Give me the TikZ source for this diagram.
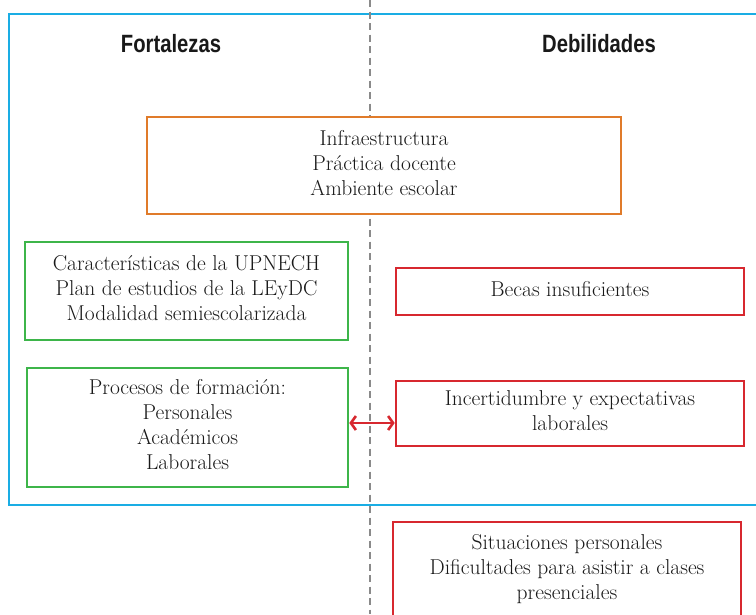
\documentclass[tikz,border=0pt]{standalone}
\usepackage{fontspec}
\newfontfamily\headfont{Liberation Sans}
\usetikzlibrary{arrows.meta}
\definecolor{cblue}{HTML}{1AADE4}
\definecolor{corange}{HTML}{E07B2A}
\definecolor{cgreen}{HTML}{3DB54A}
\definecolor{cred}{HTML}{D7282F}
\definecolor{cgray}{HTML}{8A8A8A}
\newcommand{\uptext}[1]{\raisebox{0.5pt}[\height][\depth]{\begin{tabular}{@{}c@{}}#1\end{tabular}}}
\tikzset{
  box/.style={draw, line width=2.6pt, fill=white, align=center, inner sep=0pt,
    font=\fontsize{21.5}{25}\selectfont, text=black!90},
  orangebox/.style={box, draw=corange},
  greenbox/.style={box, draw=cgreen},
  redbox/.style={box, draw=cred},
  head/.style={font=\headfont\bfseries\fontsize{25}{28}\selectfont, text=black!90}
}
\begin{document}
\begin{tikzpicture}[x=1pt,y=-1pt]
\clip (0,0) rectangle (756,614);
\useasboundingbox (0,0) rectangle (756,614);
\fill[white] (0,0) rectangle (756,614);
% outer frame
\draw[cblue, line width=2.6pt] (9,14) rectangle (780,505);
% divider
\coordinate (dtop) at (370,0);
\coordinate (dbot) at (370,614);
\draw[cgray, line width=2.6pt, dash pattern=on 7pt off 4.5pt] (dtop) -- (dbot);
% headers
\node[head] (hf) at (171,44) {\scalebox{0.81}[1]{Fortalezas}};
\node[head] (hd) at (599,44) {\scalebox{0.81}[1]{Debilidades}};
% boxes
\node[orangebox, minimum width=474pt, minimum height=97pt] (o1) at (384,165.5)
  {\uptext{Infraestructura\\Práctica docente\\Ambiente escolar}};
\node[greenbox, minimum width=323pt, minimum height=98pt] (g1) at (186.5,291)
  {\uptext{Características de la UPNECH\\Plan de estudios de la LEyDC\\Modalidad semiescolarizada}};
\node[greenbox, minimum width=321pt, minimum height=119pt] (g2) at (187.5,427.5)
  {\uptext{Procesos de formación:\\Personales\\Académicos\\Laborales}};
\node[redbox, minimum width=348pt, minimum height=47pt] (r1) at (570,291.5)
  {\uptext{Becas insuficientes}};
\node[redbox, minimum width=348pt, minimum height=65pt] (r2) at (570,413.5)
  {\uptext{Incertidumbre y expectativas\\laborales}};
\node[redbox, minimum width=348pt, minimum height=96pt] (r3) at (567,570)
  {\uptext{Situaciones personales\\Dificultades para asistir a clases\\presenciales}};
% arrow
\draw[cred, line width=2.6pt, {Straight Barb[length=5pt,width=14pt]}-{Straight Barb[length=5pt,width=14pt]}]
  (g2.east |- 0,423) -- (r2.west |- 0,423);
\end{tikzpicture}
\end{document}
